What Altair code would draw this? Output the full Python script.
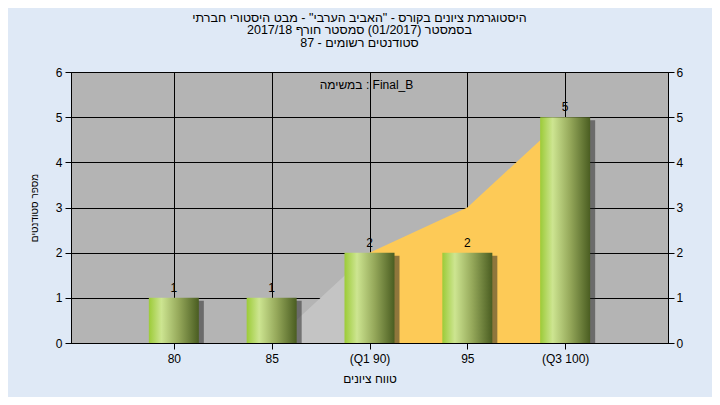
import altair as alt
import pandas as pd

FONT = "Liberation Sans"

# ---- data ----
scores = [80, 85, 90, 95, 100]
score_labels = ["80", "85", "(Q1 90)", "95", "(Q3 100)"]
counts = [1, 1, 2, 2, 5]

gray_area_x = [80, 85, 90]
gray_area_y = [0, 0, 2]
iqr_area_x = [90, 95, 100]
iqr_area_y = [2, 3, 5]

title_lines = [
    'היסטוגרמת ציונים בקורס - "האביב הערבי" - מבט היסטורי חברתי',
    "בסמסטר (01/2017) סמסטר חורף 2017/18",
    "סטודנטים רשומים - 87",
]
note_text = "במשימה : Final_B"
x_title = "טווח ציונים"
y_title = "מספר סטודנטים"
y_ticks = [0, 1, 2, 3, 4, 5, 6]

# ---- tables ----
bars_df = pd.DataFrame({"score": scores, "count": counts})
gray_df = pd.DataFrame({"score": gray_area_x, "count": gray_area_y})
iqr_df = pd.DataFrame({"score": iqr_area_x, "count": iqr_area_y})
note_df = pd.DataFrame({"score": [90], "count": [6], "t": [note_text]})

label_expr = "datum.label"
for s, l in zip(scores, score_labels):
    if l != str(s):
        label_expr = f"datum.value == {s} ? '{l}' : ({label_expr})"

x_enc = alt.X(
    "score:Q",
    scale=alt.Scale(domain=[75, 105], nice=False, zero=False),
    axis=alt.Axis(
        values=scores, labelExpr=label_expr, grid=True, gridColor="black",
        gridOpacity=1, gridWidth=1, domainColor="black", tickColor="black",
        tickSize=6, labelColor="black", labelFont=FONT, labelFontSize=12,
        labelPadding=4, title=x_title, titleFont=FONT, titleFontSize=12,
        titleFontWeight="normal", titleColor="black", titlePadding=9,
    ),
)

yscale = alt.Scale(domain=[0, 6], nice=False, zero=True)


def y_plain():
    return alt.Y("count:Q", scale=yscale, axis=None)


y_left = alt.Y(
    "count:Q", scale=yscale,
    axis=alt.Axis(
        values=y_ticks, orient="left", grid=True, gridColor="black", gridOpacity=1,
        gridWidth=1, domainColor="black", tickColor="black", tickSize=6,
        labelColor="black", labelFont=FONT, labelFontSize=12, labelPadding=3,
        title=y_title, titleFont=FONT, titleFontSize=10, titleFontWeight="normal",
        titleColor="black", titlePadding=16,
    ),
)
y_right = alt.Y(
    "count:Q", scale=yscale,
    axis=alt.Axis(
        values=y_ticks, orient="right", grid=False, domainColor="black",
        tickColor="black", tickSize=6, labelColor="black", labelFont=FONT,
        labelFontSize=12, labelPadding=2, title=None,
    ),
)

gray_area = alt.Chart(gray_df).mark_area(color="#c4c4c4").encode(x=x_enc, y=y_left)
iqr_area = alt.Chart(iqr_df).mark_area(color="#fdca57").encode(x=x_enc, y=y_plain())

shadow = alt.Chart(bars_df).mark_bar(
    width=50, xOffset=5, yOffset=3, color="#222222", opacity=0.5, clip=True
).encode(x=x_enc, y=y_plain())

gradient = alt.Gradient(
    gradient="linear", x1=0, x2=1, y1=0, y2=0,
    stops=[
        alt.GradientStop(color="#9ccb38", offset=0),
        alt.GradientStop(color="#cde591", offset=0.25),
        alt.GradientStop(color="#95a85a", offset=0.6),
        alt.GradientStop(color="#4a5d21", offset=1),
    ],
)
bars = alt.Chart(bars_df).mark_bar(width=50, color=gradient).encode(x=x_enc, y=y_plain())

bar_text = alt.Chart(bars_df).mark_text(
    baseline="bottom", dy=-3, font=FONT, fontSize=12, color="black"
).encode(x=x_enc, y=y_plain(), text="count:Q")

note = alt.Chart(note_df).mark_text(
    baseline="top", dy=8, dx=-3, align="center", font=FONT, fontSize=12, color="black"
).encode(x=x_enc, y=y_plain(), text="t:N")

right_axis = alt.Chart(bars_df).mark_tick(opacity=0).encode(x=x_enc, y=y_right)

chart = (
    alt.layer(gray_area, iqr_area, shadow, bars, bar_text, note, right_axis)
    .resolve_scale(y="independent")
    .properties(
        width=597, height=271,
        padding={"left": 63, "right": 44, "top": 64, "bottom": 54},
        autosize=alt.AutoSizeParams(type="none"),
        title=alt.TitleParams(
            text=title_lines, font=FONT, fontSize=12.5, fontWeight="normal",
            color="black", anchor="middle", dx=-10, offset=17, lineHeight=12.5,
        ),
    )
    .configure(background="#dfe9f6")
    .configure_view(fill="#b4b4b4", stroke="black", strokeWidth=1)
)

chart.save("out.html", embed_options={"renderer": "svg", "actions": False})
